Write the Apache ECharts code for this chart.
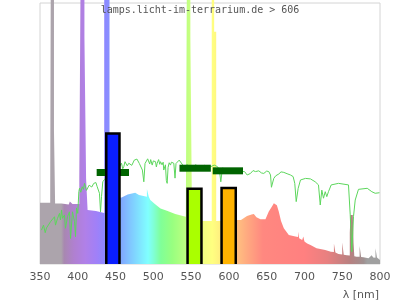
<!DOCTYPE html>
<html><head><meta charset="utf-8">
<script src="https://cdn.jsdelivr.net/npm/echarts@6/dist/echarts.min.js"></script>
<style>html,body{margin:0;padding:0;background:#fff}#c{width:400px;height:300px}</style>
</head><body><div id="c"></div>
<script>
// Lamp spectrum [wavelength nm, relative intensity %]
const lampSpectrum = [
 [350,23.5],[363.5,23.5],[363.5,27],[364.6,27],[364.6,150],[368.5,150],[368.5,51],[370,51],[370,23.2],[378.5,23.2],
 [380,22.6],[388,22.8],[389.5,23.9],[392,23.9],[393,23.0],[402,23.0],[402,32.8],[404.6,32.8],[404.6,150],[408.8,150],
 [408.8,87],[411,87],[411,32.8],[413,32.8],[413,20.7],[424,20.3],[435,19.5],[435,150],[442,150],[442,25],
 [458,25.5],[466,26.6],[476,27.3],[481,26.4],[491.5,25.8],[491.5,28.7],[494,28.7],[494,25.8],[496,24.5],[502,23],
 [509.5,21.3],[518,20.4],[529,19.2],[543,18.1],[545,18.1],[545,150],[549,150],[549,87],[551.2,87],[551.2,17.5],
 [565,16.5],[577.3,16.5],[577.3,150],[580.5,150],[580.5,89],[583.2,89],[583.2,16.5],[611,16.9],[616,16.9],[624,18.4],
 [630,19.0],[633,19.2],[636.5,17.9],[641.8,17.1],[648.4,17.1],[652.8,20.1],[657,22],[659.5,23.3],[661.7,23.9],[663.5,22.5],
 [666,20.1],[669,16.5],[672.7,13.7],[679.3,11.1],[688,10.5],[691.5,10.3],[691.5,12.4],[693,12.4],[693,9.9],[697,9.2],
 [698.5,9.1],[698.5,10.5],[700,10.5],[700,8.6],[703.6,7.9],[708,7.3],[716,6.0],[727.5,5.4],[735,4.7],[739,4.6],
 [739,7.9],[741,7.9],[741,4.4],[745,3.8],[750,3.6],[750,8.2],[752,8.2],[752,3.5],[756,3.4],[760,3.3],
 [760,12],[761,18.8],[764,18.8],[765,8],[766,3.0],[769,2.8],[773,2.8],[773,6.9],[775,6.9],[775,2.7],
 [778,2.6],[784.8,2.2],[789,3.4],[791,2.5],[794,2.4],[794,6.0],[796,6.0],[796,2.5],[800,1.5]
];
// Reference (sunlight) spectrum
const sunSpectrum = [
 [352,13.0],[354.6,14.9],[356.9,12.0],[358.6,13.8],[361.2,14.3],[363.9,16.2],[366.5,16.9],[369.2,18.1],[370.5,14.9],[373.2,17.5],
 [375.8,19.4],[377.1,16.9],[378.5,20.7],[379.8,17.5],[382.4,18.8],[383.7,13.7],[386.4,18.1],[389,20.0],[390.4,9.8],[393,20.0],
 [395.7,16.2],[397,10.5],[398.3,21.5],[400,19.4],[401.4,27.7],[402.3,29.0],[404,27.5],[405.9,29.6],[407.5,28.6],[408.9,30.9],
 [410.2,30.5],[411.5,28.2],[413.3,27.7],[415,30.2],[416.8,30.9],[418.5,29.5],[421.2,30.9],[422.1,30.3],[424,31.2],[425.7,29.6],
 [428.7,27.1],[430.1,20.0],[431.4,25.8],[433.1,31.5],[437,33],[441,35],[445,34],[449,37],[453,36],[455.5,37.5],
 [457.9,38.6],[459.5,36.5],[460.9,37.3],[462.5,39.2],[464,39.0],[465.5,37.6],[467.5,38.6],[469.8,39.2],[471.5,37.8],[473,38.2],
 [474.8,39.8],[476.4,39.2],[478.3,40.2],[480,40.0],[481.5,38.5],[483,38.6],[485.5,36],[487.4,31.5],[489,38.5],[490.5,39.2],
 [492.5,40.3],[494,39.8],[495.2,38.3],[496.5,40.0],[498.5,37.9],[500,39.5],[501,40.2],[502.9,39.2],[504,37.2],[505.1,38.6],
 [507,40.0],[508.5,38.2],[509.5,39.2],[511.5,38.0],[513,39.0],[513.8,36.0],[515,36.5],[516,38],[517.2,32],[518.3,30.9],
 [519.5,37],[521,38.8],[522.7,37.9],[524,39.0],[525,39.5],[527.1,38.6],[528.7,32.9],[530,38.5],[532,39.2],[534.2,39.8],
 [540,37.5],[545,38],[550,37],[556,38],[562,37],[568,37.8],[572,36.8],[576,37.3],[580.6,37.9],[584.9,37.3],
 [587.5,36],[589.3,31.5],[591.5,36.8],[598,36],[605,36.5],[612,35.5],[620.7,35.4],[624.2,34.1],[628.6,34.7],[632,35.8],
 [635.2,35.4],[639.6,35.7],[643,34.9],[646.2,34.7],[650,35.6],[652.8,35.4],[655.1,34.1],[656.3,29.4],[657.3,29.4],[659.4,32.8],
 [662,33.8],[666.1,34.5],[669,35.3],[672.7,35.1],[677,34.6],[681.5,34.1],[685,33.5],[687.2,30.9],[689.1,23.9],[691.7,29.0],
 [694.8,32.2],[701.4,32.8],[708,32.6],[714.2,31.5],[718.6,30.3],[720.9,22.6],[723,28.3],[725.2,25.2],[727.5,27.7],[729.6,25.8],
 [731.8,27.7],[735.4,30.3],[745.1,30.9],[758.3,30.3],[760.6,18.8],[762.7,4.7],[764.9,18.1],[767.2,24.5],[771.5,28.6],[783.1,29.0],
 [789.2,27.7],[793.6,27.1],[799.3,27.3]
];
// Band bars
const bandStart = [437.7, 545.3, 590.3];
const bandEnd   = [455.2, 563.7, 609.1];
const bandValue = [50.0, 28.8, 29.1];
// Band averages (dark green markers)
const avgStart = [425.0, 534.6, 578.6];
const avgEnd   = [467.8, 576.1, 618.7];
const avgValue = [35.1, 36.7, 35.7];
// Tick labels
const xTicks = [350, 400, 450, 500, 550, 600, 650, 700, 750, 800];

const barColors = ['#0a1eff', '#aaff00', '#ffb300'];
const specColors = [
 [350,'#aca4ac'],[378,'#aca4ac'],[382,'#a888b0'],[395,'#b080d0'],[410,'#b080e8'],[425,'#a080f8'],[436,'#8c88ff'],
 [458,'#80a8ff'],[470,'#80c8ff'],[485,'#80ecff'],[493,'#80ffff'],[500,'#80ffd8'],[510,'#80ff98'],[525,'#98ff80'],
 [545,'#c0ff80'],[565,'#f0ff80'],[578,'#ffff80'],[588,'#fff080'],[611,'#ffc080'],[625,'#ffa880'],[645,'#ff8880'],
 [700,'#ff8080'],[730,'#e88080'],[760,'#b88080'],[778,'#a09090'],[783,'#a0a0a0'],[800,'#a0a0a0']
];
const gradient = new echarts.graphic.LinearGradient(0, 0, 1, 0,
  specColors.map(([nm, c]) => ({offset: (nm - 350) / 450, color: c})));

const chart = echarts.init(document.getElementById('c'));
chart.setOption({
  animation: false,
  title: {
    text: 'lamps.licht-im-terrarium.de > 606', left: 'center', top: 5, padding: 0,
    textStyle: {fontFamily: 'DejaVu Sans Mono', fontSize: 10, fontWeight: 'normal', color: '#555'}
  },
  grid: {left: 40, right: 20, top: 3, bottom: 36, show: true, borderColor: '#d4d4d4', borderWidth: 1},
  xAxis: {
    type: 'value', min: xTicks[0], max: xTicks[xTicks.length - 1], interval: 50,
    axisLine: {show: false}, axisTick: {show: false}, splitLine: {show: false},
    axisLabel: {color: '#555', fontSize: 11, fontFamily: 'DejaVu Sans', margin: 8,
      formatter: v => xTicks.includes(v) ? String(v) : ''}
  },
  yAxis: {type: 'value', min: 0, max: 100, show: false},
  graphic: [{type: 'text', x: 379, y: 295.5,
    style: {text: 'λ [nm]', font: '11px "DejaVu Sans"', fill: '#555', textAlign: 'right', textVerticalAlign: 'middle'}}],
  series: [
    {type: 'line', z: 1, data: lampSpectrum, showSymbol: false, clip: false,
     lineStyle: {width: 0, opacity: 0}, areaStyle: {color: gradient, opacity: 1}, silent: true},
    {type: 'line', z: 2, data: sunSpectrum, showSymbol: false, lineStyle: {color: '#5cd65c', width: 1}, silent: true},
    {type: 'custom', z: 3, data: avgStart.map((s, i) => [s, avgEnd[i], avgValue[i]]),
     renderItem: (params, api) => {
       const a = api.coord([api.value(0), api.value(2)]);
       const b = api.coord([api.value(1), api.value(2)]);
       return {type: 'rect', shape: {x: a[0], y: a[1] - 3.5, width: b[0] - a[0], height: 7}, style: {fill: '#006400'}};
     }},
    {type: 'custom', z: 4, data: bandStart.map((s, i) => [s, bandEnd[i], bandValue[i]]),
     renderItem: (params, api) => {
       const p0 = api.coord([api.value(0), 0]);
       const p1 = api.coord([api.value(1), api.value(2)]);
       return {type: 'group', children: [
         {type: 'rect', shape: {x: p0[0], y: p1[1], width: p1[0] - p0[0], height: p0[1] - p1[1]},
          style: {fill: barColors[params.dataIndex]}},
         {type: 'polyline', shape: {points: [[p0[0], p0[1]], [p0[0], p1[1]], [p1[0], p1[1]], [p1[0], p0[1]]]},
          style: {stroke: '#000', lineWidth: 2.5, fill: null}}
       ]};
     }}
  ]
});
</script></body></html>
